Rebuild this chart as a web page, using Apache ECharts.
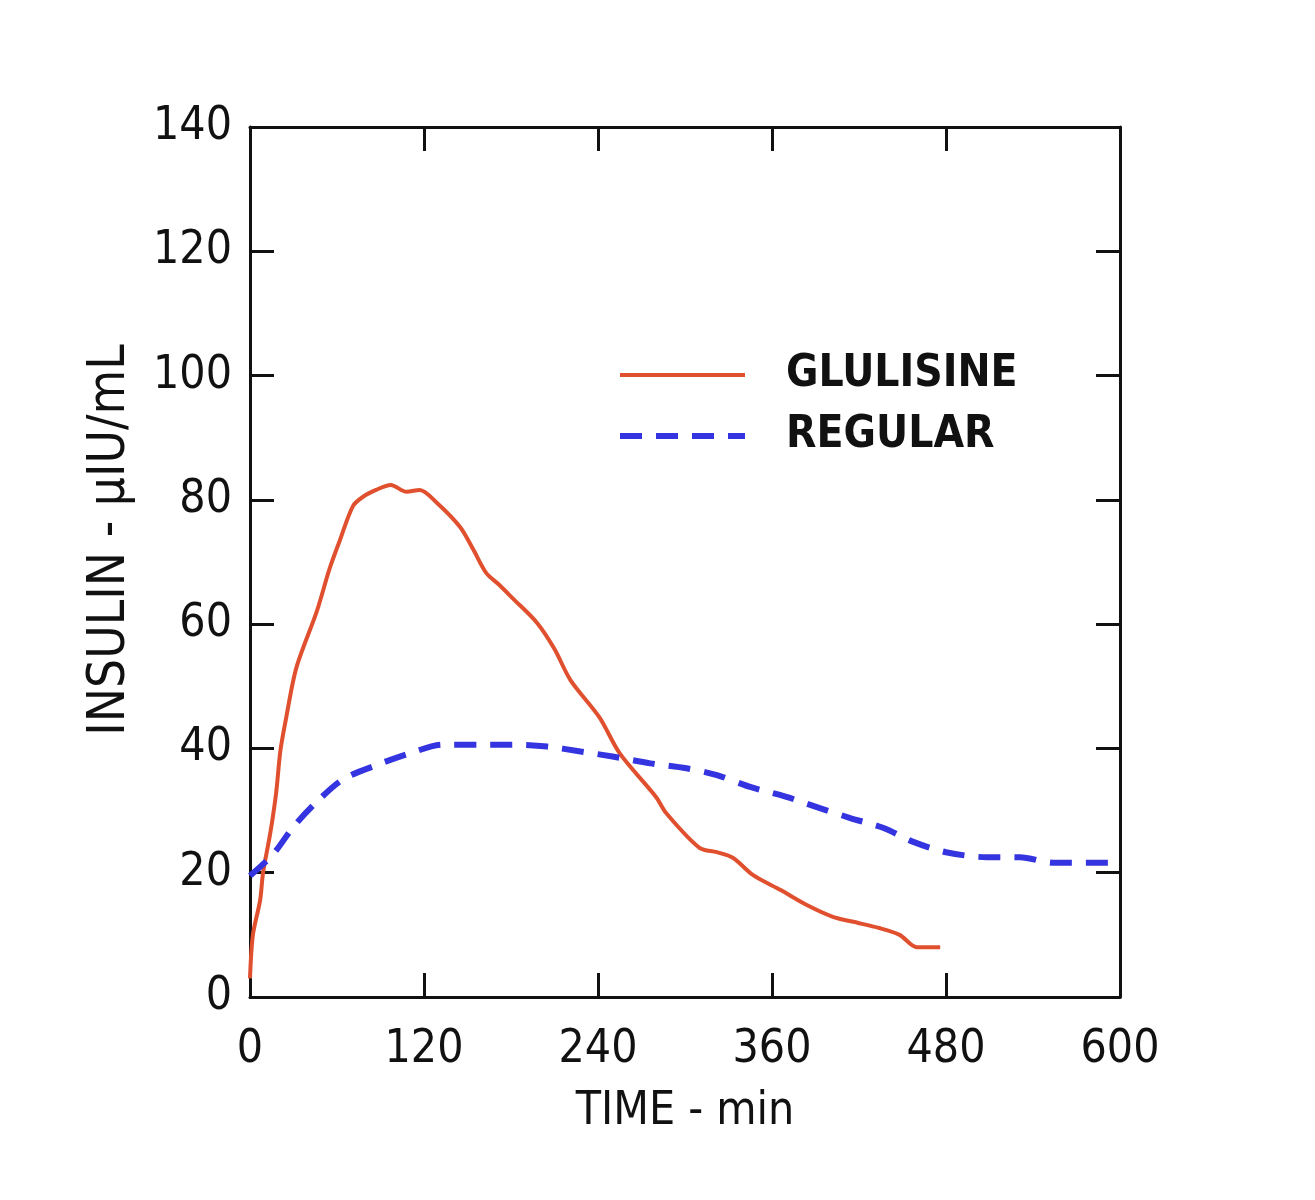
<!DOCTYPE html>
<html>
<head>
<meta charset="utf-8">
<script src="https://cdn.jsdelivr.net/npm/echarts@6/dist/echarts.min.js"></script>
<style>
  html, body { margin: 0; padding: 0; background: #fff; }
  #main { width: 1315px; height: 1200px; }
</style>
</head>
<body>
<div id="main"></div>
<script>
var glulisineTime = [0, 2, 7, 9, 14, 18, 21, 25, 32, 46, 55, 62, 71, 78, 87, 97, 108, 117, 129, 145, 154, 163, 172, 181, 198, 210, 221, 241, 255, 280, 287, 310, 322, 333, 347, 366, 384, 402, 416, 434, 448, 460, 476];
var glulisineValue = [3, 10, 15.6, 20, 26.4, 32.8, 39.7, 45, 53, 62, 69, 73.5, 79, 80.5, 81.6, 82.4, 81.3, 81.6, 79.5, 75.6, 72, 68.2, 66.3, 64.2, 60.2, 56, 51, 45, 39.2, 32.2, 29.6, 24, 23.3, 22.4, 19.6, 17.2, 14.8, 12.9, 12.1, 11.1, 10, 8, 8];
var regularTime = [0, 16, 30, 46, 64, 87, 110, 133, 159, 181, 205, 228, 250, 276, 301, 322, 345, 370, 393, 414, 437, 457, 480, 508, 531, 554, 577, 600];
var regularValue = [19.5, 23, 27.4, 31.4, 35, 37.3, 39.2, 40.6, 40.6, 40.6, 40.3, 39.5, 38.7, 37.6, 36.8, 35.7, 33.8, 32.2, 30.4, 28.8, 27.2, 25, 23.3, 22.5, 22.5, 21.6, 21.6, 21.6];
var xTicks = [0, 120, 240, 360, 480, 600];
var yTicks = [0, 20, 40, 60, 80, 100, 120, 140];

function pairs(xs, ys) {
    return xs.map(function (x, i) { return [x, ys[i]]; });
}

var font = "'Liberation Sans Narrow', 'Arial Narrow', 'DejaVu Sans Condensed', sans-serif";
var red = '#e0502e';
var blue = '#3434e0';
var axisLine = { show: true, onZero: false, lineStyle: { color: '#111', width: 3 } };
var tick = { show: true, inside: true, length: 24, lineStyle: { color: '#111', width: 3 } };

var myChart = echarts.init(document.getElementById('main'));
myChart.setOption({
    animation: false,
    backgroundColor: '#fff',
    grid: { left: 250, right: 195, top: 127, bottom: 203 },
    legend: {
        orient: 'vertical',
        left: 612,
        top: 348,
        itemWidth: 125,
        itemHeight: 20,
        itemGap: 17,
        itemStyle: { opacity: 0 },
        textStyle: { fontFamily: font, fontSize: 44, fontWeight: 'bold', color: '#111', padding: [0, 0, 0, 36] },
        data: [
            { name: 'GLULISINE', lineStyle: { color: red, width: 4 } },
            { name: 'REGULAR', lineStyle: { color: blue, width: 6, type: [22, 14] } }
        ]
    },
    xAxis: [{
        type: 'value',
        position: 'bottom',
        min: 0, max: 600, interval: 120,
        name: 'TIME - min',
        nameLocation: 'middle',
        nameGap: 92,
        nameTextStyle: { fontFamily: font, fontSize: 46, color: '#111' },
        axisLine: axisLine,
        axisTick: tick,
        splitLine: { show: false },
        axisLabel: {
            margin: 30, fontFamily: font, fontSize: 46, color: '#111',
            formatter: function (v) { return xTicks.indexOf(v) >= 0 ? String(v) : ''; }
        }
    }, {
        type: 'value',
        position: 'top',
        min: 0, max: 600, interval: 120,
        axisLine: axisLine,
        axisTick: tick,
        splitLine: { show: false },
        axisLabel: { show: false }
    }],
    yAxis: [{
        type: 'value',
        position: 'left',
        min: 0, max: 140, interval: 20,
        name: 'INSULIN - \u00b5IU/mL',
        nameLocation: 'middle',
        nameGap: 114,
        nameTextStyle: { fontFamily: font, fontSize: 51, color: '#111', padding: [0, 0, 0, 44] },
        axisLine: axisLine,
        axisTick: tick,
        splitLine: { show: false },
        axisLabel: {
            margin: 18, fontFamily: font, fontSize: 46, color: '#111',
            formatter: function (v) { return yTicks.indexOf(v) >= 0 ? String(v) : ''; }
        }
    }, {
        type: 'value',
        position: 'right',
        min: 0, max: 140, interval: 20,
        axisLine: axisLine,
        axisTick: tick,
        splitLine: { show: false },
        axisLabel: { show: false }
    }],
    series: [{
        name: 'GLULISINE',
        type: 'line',
        symbol: 'none',
        smooth: 0.3,
        data: pairs(glulisineTime, glulisineValue),
        lineStyle: { color: red, width: 4 },
        itemStyle: { color: red }
    }, {
        name: 'REGULAR',
        type: 'line',
        symbol: 'none',
        smooth: 0.3,
        data: pairs(regularTime, regularValue),
        lineStyle: { color: blue, width: 6, type: [22, 14] },
        itemStyle: { color: blue }
    }]
});
</script>
</body>
</html>
